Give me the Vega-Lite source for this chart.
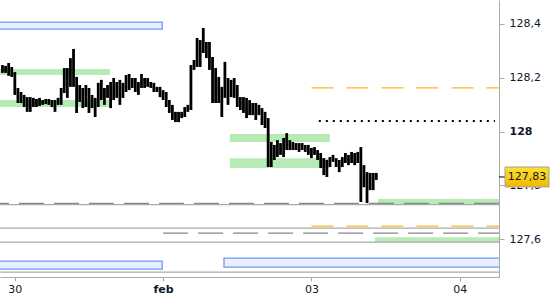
{
  "$schema": "https://vega.github.io/schema/vega-lite/v6.json",
  "width": 499,
  "height": 277,
  "autosize": {"type": "none"},
  "padding": {"left": 0, "top": 0, "right": 51, "bottom": 23},
  "background": "white",
  "config": {"view": {"stroke": null}, "font": "DejaVu Sans"},
  "datasets": {
    "blue": [
      {"x1": -5, "x2": 23.85, "y1": 128.407, "y2": 128.381},
      {"x1": -5, "x2": 23.85, "y1": 127.518, "y2": 127.488},
      {"x1": 33.85, "x2": 85, "y1": 127.529, "y2": 127.496}
    ],
    "green": [
      {"x1": -5, "x2": 15.4, "y1": 128.232, "y2": 128.21},
      {"x1": -5, "x2": 15.4, "y1": 128.117, "y2": 128.091},
      {"x1": 34.8, "x2": 51, "y1": 127.991, "y2": 127.961},
      {"x1": 34.8, "x2": 51, "y1": 127.901, "y2": 127.864},
      {"x1": 58.8, "x2": 85, "y1": 127.749, "y2": 127.73},
      {"x1": 58.3, "x2": 85, "y1": 127.607, "y2": 127.589}
    ],
    "graySolid": [
      {"x1": -5, "x2": 85, "y1": 127.728},
      {"x1": -5, "x2": 85, "y1": 127.641},
      {"x1": -5, "x2": 85, "y1": 127.589},
      {"x1": -5, "x2": 85, "y1": 127.477}
    ],
    "grayDash": [
      {"x1": -5, "x2": 85, "y1": 127.733},
      {"x1": 24, "x2": 85, "y1": 127.622}
    ],
    "orangeDash": [
      {"x1": 48, "x2": 85, "y1": 128.162},
      {"x1": 48, "x2": 85, "y1": 127.648}
    ],
    "dotted": [
      {"x1": 49.2, "x2": 77.7, "y1": 128.039}
    ],
    "bars": [
      {"x1": -2, "y1": 128.247, "y2": 128.218},
      {"x1": -1.5, "y1": 128.244, "y2": 128.218},
      {"x1": -1, "y1": 128.255, "y2": 128.207},
      {"x1": -0.5, "y1": 128.24, "y2": 128.203},
      {"x1": 0, "y1": 128.221, "y2": 128.136},
      {"x1": 0.5, "y1": 128.162, "y2": 128.106},
      {"x1": 1, "y1": 128.147, "y2": 128.106},
      {"x1": 1.5, "y1": 128.136, "y2": 128.091},
      {"x1": 2, "y1": 128.128, "y2": 128.073},
      {"x1": 2.5, "y1": 128.128, "y2": 128.073},
      {"x1": 3, "y1": 128.125, "y2": 128.091},
      {"x1": 3.5, "y1": 128.121, "y2": 128.091},
      {"x1": 4, "y1": 128.125, "y2": 128.095},
      {"x1": 4.5, "y1": 128.117, "y2": 128.099},
      {"x1": 5, "y1": 128.121, "y2": 128.102},
      {"x1": 5.5, "y1": 128.121, "y2": 128.099},
      {"x1": 6, "y1": 128.117, "y2": 128.091},
      {"x1": 6.5, "y1": 128.117, "y2": 128.073},
      {"x1": 7, "y1": 128.125, "y2": 128.099},
      {"x1": 7.5, "y1": 128.162, "y2": 128.099},
      {"x1": 8, "y1": 128.236, "y2": 128.143},
      {"x1": 8.5, "y1": 128.236, "y2": 128.125},
      {"x1": 9, "y1": 128.273, "y2": 128.166},
      {"x1": 9.5, "y1": 128.307, "y2": 128.166},
      {"x1": 10, "y1": 128.203, "y2": 128.069},
      {"x1": 10.5, "y1": 128.173, "y2": 128.11},
      {"x1": 11, "y1": 128.162, "y2": 128.087},
      {"x1": 11.5, "y1": 128.173, "y2": 128.091},
      {"x1": 12, "y1": 128.162, "y2": 128.069},
      {"x1": 12.5, "y1": 128.136, "y2": 128.087},
      {"x1": 13, "y1": 128.125, "y2": 128.054},
      {"x1": 13.5, "y1": 128.181, "y2": 128.091},
      {"x1": 14, "y1": 128.192, "y2": 128.117},
      {"x1": 14.5, "y1": 128.162, "y2": 128.099},
      {"x1": 15, "y1": 128.173, "y2": 128.125},
      {"x1": 15.5, "y1": 128.184, "y2": 128.087},
      {"x1": 16, "y1": 128.199, "y2": 128.117},
      {"x1": 16.5, "y1": 128.184, "y2": 128.125},
      {"x1": 17, "y1": 128.192, "y2": 128.099},
      {"x1": 17.5, "y1": 128.181, "y2": 128.125},
      {"x1": 18, "y1": 128.21, "y2": 128.147},
      {"x1": 18.5, "y1": 128.214, "y2": 128.154},
      {"x1": 19, "y1": 128.199, "y2": 128.162},
      {"x1": 19.5, "y1": 128.199, "y2": 128.147},
      {"x1": 20, "y1": 128.184, "y2": 128.136},
      {"x1": 20.5, "y1": 128.214, "y2": 128.162},
      {"x1": 21, "y1": 128.199, "y2": 128.162},
      {"x1": 21.5, "y1": 128.199, "y2": 128.166},
      {"x1": 22, "y1": 128.184, "y2": 128.162},
      {"x1": 22.5, "y1": 128.181, "y2": 128.147},
      {"x1": 23, "y1": 128.166, "y2": 128.147},
      {"x1": 23.5, "y1": 128.166, "y2": 128.128},
      {"x1": 24, "y1": 128.154, "y2": 128.117},
      {"x1": 24.5, "y1": 128.147, "y2": 128.091},
      {"x1": 25, "y1": 128.117, "y2": 128.069},
      {"x1": 25.5, "y1": 128.099, "y2": 128.043},
      {"x1": 26, "y1": 128.073, "y2": 128.035},
      {"x1": 26.5, "y1": 128.073, "y2": 128.035},
      {"x1": 27, "y1": 128.073, "y2": 128.05},
      {"x1": 27.5, "y1": 128.091, "y2": 128.054},
      {"x1": 28, "y1": 128.099, "y2": 128.073},
      {"x1": 28.5, "y1": 128.247, "y2": 128.08},
      {"x1": 29, "y1": 128.266, "y2": 128.229},
      {"x1": 29.5, "y1": 128.348, "y2": 128.24},
      {"x1": 30, "y1": 128.34, "y2": 128.24},
      {"x1": 30.5, "y1": 128.385, "y2": 128.292},
      {"x1": 31, "y1": 128.333, "y2": 128.273},
      {"x1": 31.5, "y1": 128.333, "y2": 128.229},
      {"x1": 32, "y1": 128.277, "y2": 128.106},
      {"x1": 32.5, "y1": 128.236, "y2": 128.106},
      {"x1": 33, "y1": 128.203, "y2": 128.106},
      {"x1": 33.5, "y1": 128.166, "y2": 128.054},
      {"x1": 34, "y1": 128.259, "y2": 128.125},
      {"x1": 34.5, "y1": 128.199, "y2": 128.099},
      {"x1": 35, "y1": 128.192, "y2": 128.128},
      {"x1": 35.5, "y1": 128.199, "y2": 128.125},
      {"x1": 36, "y1": 128.173, "y2": 128.091},
      {"x1": 36.5, "y1": 128.128, "y2": 128.08},
      {"x1": 37, "y1": 128.128, "y2": 128.069},
      {"x1": 37.5, "y1": 128.125, "y2": 128.05},
      {"x1": 38, "y1": 128.117, "y2": 128.061},
      {"x1": 38.5, "y1": 128.106, "y2": 128.061},
      {"x1": 39, "y1": 128.106, "y2": 128.043},
      {"x1": 39.5, "y1": 128.099, "y2": 128.061},
      {"x1": 40, "y1": 128.087, "y2": 128.024},
      {"x1": 40.5, "y1": 128.073, "y2": 128.013},
      {"x1": 41, "y1": 128.05, "y2": 127.868},
      {"x1": 41.5, "y1": 127.961, "y2": 127.868},
      {"x1": 42, "y1": 127.95, "y2": 127.894},
      {"x1": 42.5, "y1": 127.968, "y2": 127.905},
      {"x1": 43, "y1": 127.957, "y2": 127.913},
      {"x1": 43.5, "y1": 127.976, "y2": 127.905},
      {"x1": 44, "y1": 127.994, "y2": 127.931},
      {"x1": 44.5, "y1": 127.968, "y2": 127.931},
      {"x1": 45, "y1": 127.961, "y2": 127.931},
      {"x1": 45.5, "y1": 127.957, "y2": 127.931},
      {"x1": 46, "y1": 127.957, "y2": 127.924},
      {"x1": 46.5, "y1": 127.957, "y2": 127.931},
      {"x1": 47, "y1": 127.95, "y2": 127.924},
      {"x1": 47.5, "y1": 127.95, "y2": 127.913},
      {"x1": 48, "y1": 127.939, "y2": 127.901},
      {"x1": 48.5, "y1": 127.942, "y2": 127.913},
      {"x1": 49, "y1": 127.931, "y2": 127.894},
      {"x1": 49.5, "y1": 127.92, "y2": 127.864},
      {"x1": 50, "y1": 127.901, "y2": 127.838},
      {"x1": 50.5, "y1": 127.894, "y2": 127.831},
      {"x1": 51, "y1": 127.905, "y2": 127.868},
      {"x1": 51.5, "y1": 127.913, "y2": 127.887},
      {"x1": 52, "y1": 127.901, "y2": 127.868},
      {"x1": 52.5, "y1": 127.894, "y2": 127.849},
      {"x1": 53, "y1": 127.905, "y2": 127.868},
      {"x1": 53.5, "y1": 127.92, "y2": 127.883},
      {"x1": 54, "y1": 127.913, "y2": 127.875},
      {"x1": 54.5, "y1": 127.924, "y2": 127.883},
      {"x1": 55, "y1": 127.92, "y2": 127.875},
      {"x1": 55.5, "y1": 127.924, "y2": 127.883},
      {"x1": 56, "y1": 127.942, "y2": 127.738},
      {"x1": 56.5, "y1": 127.875, "y2": 127.793},
      {"x1": 57, "y1": 127.849, "y2": 127.734},
      {"x1": 57.5, "y1": 127.846, "y2": 127.782},
      {"x1": 58, "y1": 127.846, "y2": 127.782},
      {"x1": 58.5, "y1": 127.846, "y2": 127.82}
    ],
    "last": [
      {"x1": 78.36, "x2": 79.33, "y1": 127.831, "y2": 127.868, "y3": 127.794, "x3": 86.45, "xm": 82.9, "label": "127,83"}
    ]
  },
  "encoding": {
    "x": {
      "field": "x1", "type": "quantitative",
      "scale": {"domain": [-2.4, 78.36], "nice": false, "zero": false},
      "axis": {
        "title": null, "grid": false, "values": [0, 24, 48, 72],
        "labelExpr": "datum.value == 0 ? '30' : datum.value == 24 ? 'feb' : datum.value == 48 ? '03' : '04'",
        "labelFontWeight": {"condition": {"test": "datum.value == 24", "value": "bold"}, "value": "normal"},
        "domainColor": "#aaaaaa", "tickColor": "#aaaaaa", "tickSize": 4,
        "labelPadding": 2, "labelFontSize": 11, "labelColor": "#101828", "labelFont": "DejaVu Sans"
      }
    },
    "y": {
      "field": "y1", "type": "quantitative",
      "scale": {"domain": [127.459, 128.489], "nice": false, "zero": false},
      "axis": {
        "orient": "right", "title": null, "grid": false,
        "values": [127.6, 127.8, 128, 128.2, 128.4],
        "labelExpr": "datum.value == 128 ? '128' : replace(format(datum.value, '.1f'), '.', ',')",
        "labelFontWeight": {"condition": {"test": "datum.value == 128", "value": "bold"}, "value": "normal"},
        "domainColor": "#aaaaaa", "tickColor": "#aaaaaa", "tickSize": 5,
        "labelPadding": 5, "labelFontSize": 11, "labelColor": "#101828", "labelFont": "DejaVu Sans"
      }
    }
  },
  "layer": [
    {
      "data": {"name": "blue"},
      "mark": {"type": "rect", "fill": "#e8eeff", "stroke": "#6d9bf0", "strokeWidth": 1.3, "clip": true},
      "encoding": {"x2": {"field": "x2"}, "y2": {"field": "y2"}}
    },
    {
      "data": {"name": "green"},
      "mark": {"type": "rect", "fill": "#b6ebb6", "clip": true},
      "encoding": {"x2": {"field": "x2"}, "y2": {"field": "y2"}}
    },
    {
      "data": {"name": "graySolid"},
      "mark": {"type": "rule", "stroke": "#aaaaaa", "strokeWidth": 1.2, "clip": true},
      "encoding": {"x2": {"field": "x2"}}
    },
    {
      "data": {"name": "grayDash"},
      "mark": {"type": "rule", "stroke": "#888888", "strokeWidth": 1.3, "strokeDash": [25, 10], "clip": true},
      "encoding": {"x2": {"field": "x2"}}
    },
    {
      "data": {"name": "orangeDash"},
      "mark": {"type": "rule", "stroke": "#fbb829", "strokeWidth": 1.3, "strokeDash": [22, 13], "clip": true},
      "encoding": {"x2": {"field": "x2"}}
    },
    {
      "data": {"name": "dotted"},
      "mark": {"type": "rule", "stroke": "#000000", "strokeWidth": 2, "strokeDash": [2, 5], "clip": true},
      "encoding": {"x2": {"field": "x2"}}
    },
    {
      "data": {"name": "bars"},
      "mark": {"type": "rule", "stroke": "#000000", "strokeWidth": 2.8, "clip": true},
      "encoding": {"y2": {"field": "y2"}}
    },
    {
      "data": {"name": "last"},
      "mark": {"type": "rule", "stroke": "#000000", "strokeWidth": 1},
      "encoding": {"x2": {"field": "x2"}}
    },
    {
      "data": {"name": "last"},
      "mark": {"type": "rect", "stroke": "#a0a0a0", "strokeWidth": 1,
        "fill": {"gradient": "linear", "x1": 0, "y1": 0, "x2": 0, "y2": 1,
          "stops": [{"offset": 0, "color": "#ffe030"}, {"offset": 1, "color": "#f2b800"}]}},
      "encoding": {"x": {"field": "x2", "type": "quantitative"}, "x2": {"field": "x3"}, "y": {"field": "y2", "type": "quantitative"}, "y2": {"field": "y3"}}
    },
    {
      "data": {"name": "last"},
      "mark": {"type": "text", "font": "DejaVu Sans", "fontSize": 11, "color": "#101828", "align": "center", "baseline": "middle"},
      "encoding": {"x": {"field": "xm", "type": "quantitative"}, "text": {"field": "label"}}
    }
  ]
}
